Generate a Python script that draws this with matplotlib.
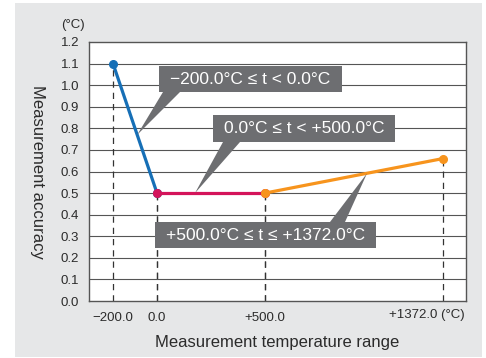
import numpy as np
import matplotlib
matplotlib.use("Agg")
import matplotlib.pyplot as plt
from matplotlib.patches import Rectangle, Polygon

plt.rcParams['font.family'] = ['Liberation Sans', 'DejaVu Sans']

# Data: accuracy segments by temperature range
seg_x = [[-200.0, 0.0], [0.0, 500.0], [500.0, 1372.0]]
seg_y = [[1.1, 0.5], [0.5, 0.5], [0.5, 0.66]]
seg_colors = ['#166fb6', '#d4145a', '#f7941d']
seg_labels = ['\u2212200.0\u00b0C \u2264 t < 0.0\u00b0C',
              '0.0\u00b0C \u2264 t < +500.0\u00b0C',
              '+500.0\u00b0C \u2264 t \u2264 +1372.0\u00b0C']

x_ticks = [-200.0, 0.0, 500.0, 1372.0]
x_ticklabels = ['\u2212200.0', '0.0', '+500.0', '']
y_ticks = [round(0.1 * i, 1) for i in range(13)]

# piecewise-linear x axis (the original is not to scale)
knot_t = [-5000.0, -200.0, 0.0, 500.0, 1372.0, 5000.0]
knot_p = [-943.0, 113.0, 157.0, 265.0, 443.0, 1183.5]


def fwd(t):
    return np.interp(t, knot_t, knot_p)


def inv(p):
    return np.interp(p, knot_p, knot_t)


W, H = 486, 358
fig = plt.figure(figsize=(W / 100, H / 100), dpi=100)
fig.patch.set_facecolor('white')
fig.patches.append(Rectangle((15 / W, 1 / H), 467 / W, 354 / H,
                             transform=fig.transFigure, facecolor='#e6e7e8',
                             edgecolor='none', zorder=-10))

AX_L, AX_R, AX_T, AX_B = 89, 466, 42, 301
ax = fig.add_axes([AX_L / W, 1 - AX_B / H, (AX_R - AX_L) / W, (AX_B - AX_T) / H])
ax.set_facecolor('white')
ax.set_xscale('function', functions=(fwd, inv))
ax.set_xlim(inv(AX_L), inv(AX_R))
ax.set_ylim(0, 1.2)


def px(x, y):
    # image pixel -> axes fraction
    return ((x - AX_L) / (AX_R - AX_L), (AX_B - y) / (AX_B - AX_T))


# grid lines
for v in y_ticks[1:-1]:
    ax.axhline(v, color='#555555', lw=0.8, zorder=1)

# dashed drop lines
for xs, ys in zip(seg_x, seg_y):
    for xv, yv in zip(xs, ys):
        ax.plot([xv, xv], [0, yv], color='#333333', lw=0.9,
                linestyle=(0, (5, 4)), zorder=2)

# segments
for xs, ys, c in zip(seg_x, seg_y, seg_colors):
    ax.plot(xs, ys, color=c, lw=2.3, marker='o', markersize=5.5,
            solid_capstyle='round', zorder=4)

for s in ax.spines.values():
    s.set_color('#555555')
    s.set_linewidth(1.0)

ax.set_xticks(x_ticks)
ax.set_xticklabels(x_ticklabels)
ax.set_yticks(y_ticks)
ax.set_yticklabels([f'{v:.1f}' for v in y_ticks])
ax.tick_params(length=0, labelsize=9.5, colors='#2b2b2b')
ax.tick_params(axis='y', pad=7)
ax.tick_params(axis='x', pad=8)
ax.minorticks_off()

ax.annotate('+1372.0 (\u00b0C)', xy=(1372.0, 0), xycoords=('data', 'axes fraction'),
            xytext=(-11.5, -10), textcoords='offset points', ha='center', va='center',
            fontsize=9.5, color='#2b2b2b')
ax.text(*px(73, 25), '(\u00b0C)', transform=ax.transAxes, ha='center', va='center',
        fontsize=9.5, color='#2b2b2b')

ax.set_xlabel('Measurement temperature range', fontsize=12, color='#2b2b2b')
ax.xaxis.set_label_coords(0.5, px(0, 342)[1])
ax.xaxis.label.set_va('center')
ax.set_ylabel('Measurement accuracy', fontsize=12, color='#2b2b2b', rotation=270)
ax.yaxis.set_label_coords(px(37, 0)[0], 0.5)
ax.yaxis.label.set_va('center')

# callout boxes: (left, top, right, bottom) in pixels, pointer base, tip on data
boxes = [(159, 66, 342, 92), (213, 115, 395, 142), (155, 222, 376, 248)]
bases = [((163, 92), (180, 92)), ((223, 142), (240, 142)), ((330, 222), (345, 222))]
tip_t = [-90.0, 176.0, 1000.0]
to_axes = ax.transData + ax.transAxes.inverted()
for (l, t, r, b), (b1, b2), tt, xs, ys, lab in zip(boxes, bases, tip_t, seg_x, seg_y, seg_labels):
    tip = to_axes.transform((tt, np.interp(tt, xs, ys)))
    ax.add_patch(Polygon([px(*b1), px(*b2), tip], closed=True, transform=ax.transAxes,
                         facecolor='#6d6e71', edgecolor='none', zorder=5, clip_on=False))
    x0, y0 = px(l, b)
    x1, y1 = px(r, t)
    ax.add_patch(Rectangle((x0, y0), x1 - x0, y1 - y0, transform=ax.transAxes,
                           facecolor='#6d6e71', edgecolor='none', zorder=5))
    ax.text((x0 + x1) / 2, (y0 + y1) / 2, lab, transform=ax.transAxes, ha='center',
            va='center', fontsize=12.5, color='white', zorder=6)

fig.savefig('out.png', dpi=100)
